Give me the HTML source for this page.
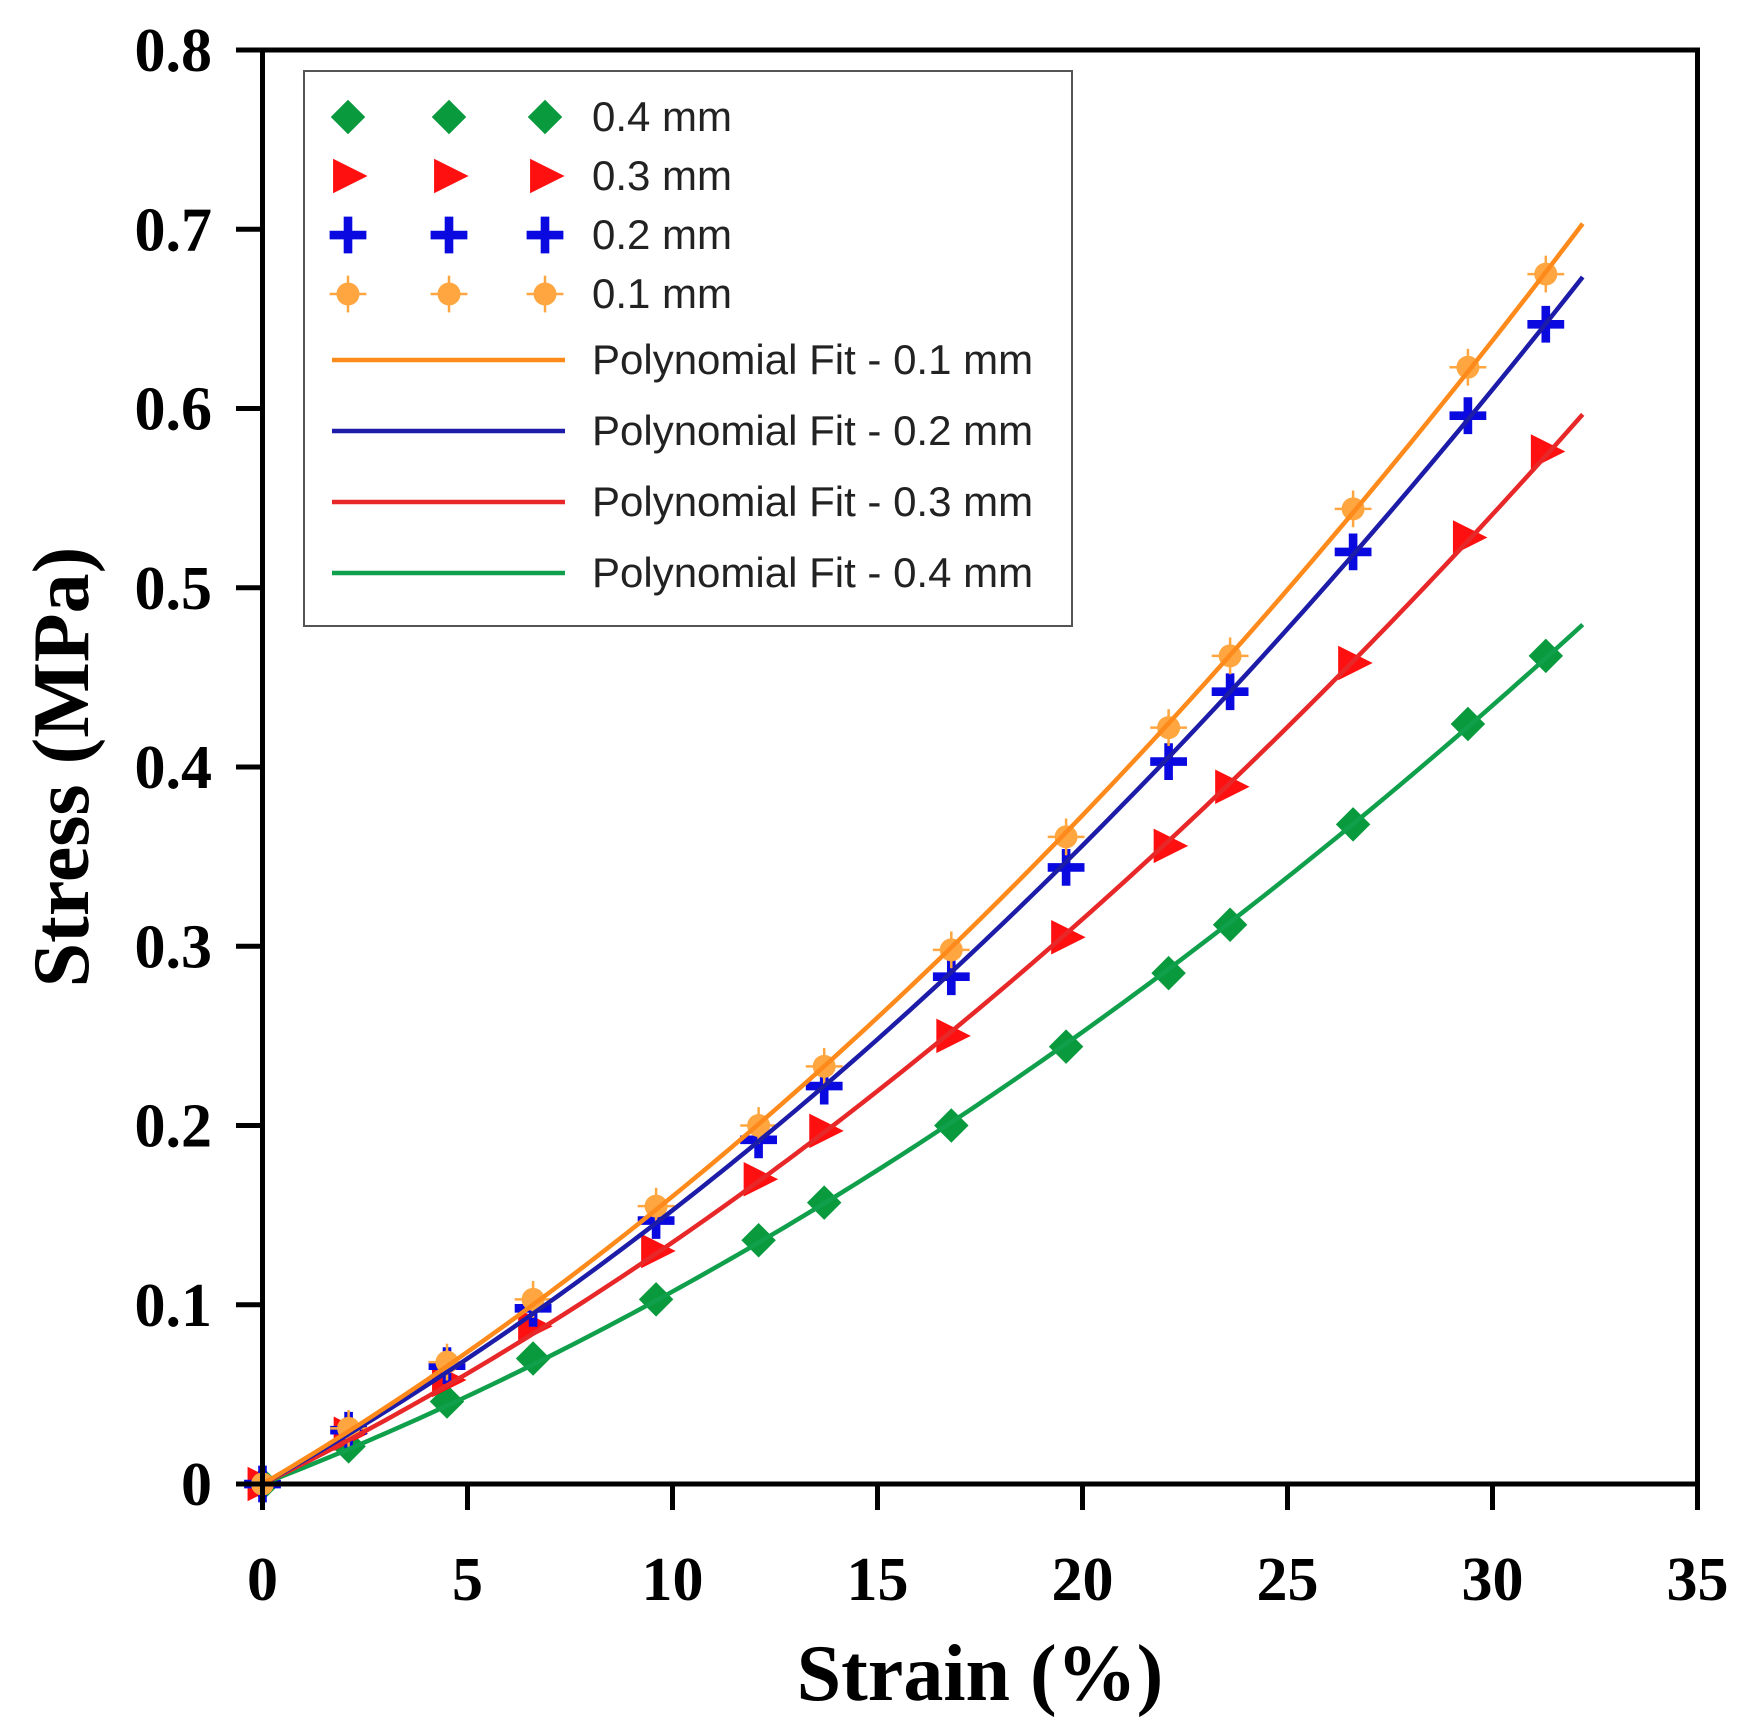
<!DOCTYPE html>
<html><head><meta charset="utf-8"><style>
html,body{margin:0;padding:0;background:#fff;}
svg{display:block;}
</style></head><body>
<svg id="s" width="1745" height="1733" viewBox="0 0 1745 1733" xmlns="http://www.w3.org/2000/svg">
<rect width="1745" height="1733" fill="#fff"/>
<g id="plot"></g>
<rect x="262.5" y="50" width="1435" height="1434" fill="none" stroke="#000" stroke-width="5"/>
<g id="ticks" stroke="#000" stroke-width="5"></g>
<g id="labels" font-family="Liberation Serif, serif" font-weight="bold" font-size="62" fill="#000"></g>
<text x="980" y="1700" text-anchor="middle" font-family="Liberation Serif, serif" font-weight="bold" font-size="80">Strain (%)</text>
<text transform="translate(88,767) rotate(-90)" text-anchor="middle" font-family="Liberation Serif, serif" font-weight="bold" font-size="80">Stress (MPa)</text>
<rect x="304" y="71" width="768" height="555" fill="#fff" stroke="#555" stroke-width="2"/>
<g id="legend" font-family="Liberation Sans, DejaVu Sans, sans-serif" font-size="42" fill="#222"></g>
</svg>
<script>
const NS="http://www.w3.org/2000/svg";
function el(p,t,a,txt){const e=document.createElementNS(NS,t);for(const k in a)e.setAttribute(k,a[k]);if(txt!==undefined)e.textContent=txt;p.appendChild(e);return e;}
const X=v=>262.5+v*41, Y=v=>1484-v*1792.5;
const ticks=document.getElementById('ticks'),labels=document.getElementById('labels');
for(let i=0;i<=7;i++){const x=X(i*5);el(ticks,'line',{x1:x,y1:1484,x2:x,y2:1510});el(labels,'text',{x:x,y:1600,'text-anchor':'middle'},String(i*5));}
for(let i=0;i<=8;i++){const y=Y(i/10);el(ticks,'line',{x1:236,y1:y,x2:262,y2:y});el(labels,'text',{x:212,y:y+21,'text-anchor':'end'},i==0?'0':(i/10).toFixed(1));}
const xs=[0,2.1,4.5,6.6,9.6,12.1,13.7,16.8,19.6,22.1,23.6,26.6,29.4,31.3];
const S=[
 {y:[0,.021,.046,.07,.103,.136,.157,.2,.244,.285,.312,.368,.424,.462],lc:'#10a04c',mc:'#0a9a3e',m:'d'},
 {y:[0,.028,.058,.088,.13,.17,.197,.25,.305,.356,.389,.458,.528,.576],lc:'#e82828',mc:'#ff1010',m:'t'},
 {y:[0,.03,.066,.098,.147,.192,.222,.283,.344,.403,.442,.52,.596,.647],lc:'#1c1ca8',mc:'#0a0ae0',m:'p'},
 {y:[0,.031,.068,.103,.155,.2,.233,.298,.361,.422,.462,.544,.623,.675],lc:'#ff8a1c',mc:'#ffa640',m:'c'}];
function mark(g,m,c,x,y,s){s=s||1.15;
 if(m=='d')el(g,'polygon',{points:`${x},${y-15*s} ${x+15*s},${y} ${x},${y+15*s} ${x-15*s},${y}`,fill:c});
 else if(m=='t')el(g,'polygon',{points:`${x-13*s},${y-15*s} ${x+17*s},${y} ${x-13*s},${y+15*s}`,fill:c});
 else if(m=='p'){el(g,'line',{x1:x-16*s,y1:y,x2:x+16*s,y2:y,stroke:c,'stroke-width':7.5*s});el(g,'line',{x1:x,y1:y-16*s,x2:x,y2:y+16*s,stroke:c,'stroke-width':7.5*s});}
 else {el(g,'line',{x1:x-16*s,y1:y,x2:x+16*s,y2:y,stroke:c,'stroke-width':2.5});el(g,'line',{x1:x,y1:y-16*s,x2:x,y2:y+16*s,stroke:c,'stroke-width':2.5});el(g,'circle',{cx:x,cy:y,r:10*s,fill:c});}
}
const plot=document.getElementById('plot');
S.forEach(s=>{
 let a11=0,a12=0,a22=0,b1=0,b2=0;xs.forEach((x,i)=>{a11+=x*x;a12+=x*x*x;a22+=x**4;b1+=x*s.y[i];b2+=x*x*s.y[i];});
 const det=a11*a22-a12*a12,a=(b1*a22-b2*a12)/det,b=(a11*b2-a12*b1)/det;
 let pts=[];for(let x=0;x<=32.2;x+=0.2)pts.push(X(x)+','+Y(a*x+b*x*x));
 s.path=pts;
});
S.forEach(s=>{xs.forEach((x,i)=>mark(plot,s.m,s.mc,X(x),Y(s.y[i])));});
S.forEach(s=>el(plot,'polyline',{points:s.path.join(' '),fill:'none',stroke:s.lc,'stroke-width':4.5}));
const lg=document.getElementById('legend');
const rows=[117,176,235,294];
[0,1,2,3].forEach(i=>{const s=S[i];[348,449,545].forEach(x=>mark(lg,s.m,s.mc,x,rows[i]));
 el(lg,'text',{x:592,y:rows[i]+14},['0.4 mm','0.3 mm','0.2 mm','0.1 mm'][i]);});
const fr=[[360,3,'0.1'],[431,2,'0.2'],[502,1,'0.3'],[573,0,'0.4']];
fr.forEach(f=>{el(lg,'line',{x1:332,y1:f[0],x2:565,y2:f[0],stroke:S[f[1]].lc,'stroke-width':4.5});
 el(lg,'text',{x:592,y:f[0]+14},'Polynomial Fit - '+f[2]+' mm');});
</script>
</body></html>
